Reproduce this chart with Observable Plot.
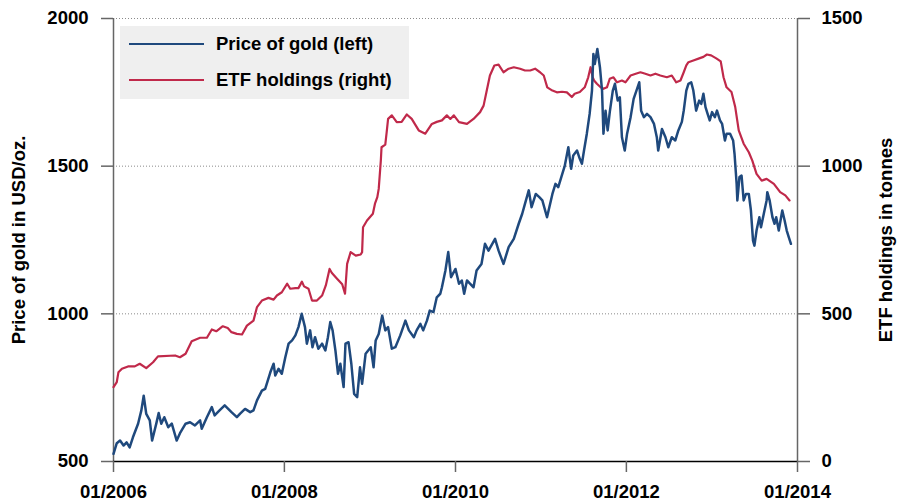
<!DOCTYPE html>
<html>
<head>
<meta charset="utf-8">
<script src="https://cdn.jsdelivr.net/npm/d3@7"></script>
<script src="https://cdn.jsdelivr.net/npm/@observablehq/plot@0.6"></script>
<style>
  body { margin: 0; background: #fff; }
  #wrap { position: relative; width: 897px; height: 503px; font-family: "Liberation Sans", Arial, sans-serif; font-weight: bold; color: #000; }
  #legend { position: absolute; left: 120px; top: 26px; width: 289px; height: 73px; background: #efefef; }
  .row { position: absolute; left: 9px; height: 24px; display: flex; align-items: center; font-size: 18.5px; white-space: nowrap; }
  .sw { width: 75px; height: 2.5px; margin-right: 12px; }
</style>
</head>
<body>
<div id="wrap"><div id="legend"></div></div>
<script>
// ---- Data ----
const goldDates = [
"2006-01-01","2006-01-15","2006-01-29","2006-02-13","2006-02-26","2006-03-11","2006-03-25","2006-04-16","2006-04-30","2006-05-10",
"2006-05-21","2006-06-05","2006-06-15","2006-07-03","2006-07-13","2006-07-24","2006-08-06","2006-08-23","2006-09-07","2006-09-28",
"2006-10-12","2006-11-05","2006-11-24","2006-12-15","2007-01-06","2007-01-13","2007-02-04","2007-02-25","2007-03-09","2007-03-30",
"2007-04-21","2007-05-20","2007-06-12","2007-06-26","2007-07-17","2007-08-08","2007-08-22","2007-09-06","2007-09-27","2007-10-11",
"2007-11-02","2007-11-16","2007-11-23","2007-12-07","2007-12-21","2008-01-05","2008-01-19","2008-02-03","2008-02-17","2008-03-01",
"2008-03-15","2008-03-29","2008-04-06","2008-04-20","2008-04-30","2008-05-11","2008-05-25","2008-06-10","2008-06-24","2008-07-05",
"2008-07-15","2008-07-25","2008-08-06","2008-08-17","2008-08-27","2008-09-10","2008-09-18","2008-10-01","2008-10-13","2008-10-25",
"2008-11-07","2008-11-19","2008-11-28","2008-12-13","2009-01-04","2009-01-16","2009-01-25","2009-02-07","2009-02-22","2009-03-07",
"2009-03-19","2009-04-04","2009-04-19","2009-05-10","2009-06-01","2009-06-16","2009-07-07","2009-07-19","2009-08-04","2009-08-16",
"2009-09-01","2009-09-13","2009-09-29","2009-10-13","2009-10-28","2009-11-04","2009-11-19","2009-12-01","2009-12-13","2010-01-01",
"2010-01-16","2010-01-28","2010-02-07","2010-02-19","2010-03-04","2010-03-19","2010-04-01","2010-04-22","2010-05-07","2010-05-22",
"2010-06-19","2010-07-04","2010-07-25","2010-08-16","2010-09-07","2010-09-28","2010-10-13","2010-10-25","2010-11-10","2010-11-22",
"2010-12-10","2010-12-25","2011-01-07","2011-01-27","2011-02-19","2011-03-04","2011-03-16","2011-03-29","2011-04-13","2011-04-28",
"2011-05-10","2011-05-19","2011-06-04","2011-06-16","2011-06-25","2011-07-04","2011-07-16","2011-07-28","2011-08-07","2011-08-13",
"2011-08-19","2011-08-30","2011-09-10","2011-09-19","2011-09-25","2011-10-04","2011-10-13","2011-10-22","2011-11-04","2011-11-13",
"2011-11-25","2011-12-04","2011-12-13","2011-12-25","2012-01-04","2012-01-19","2012-02-01","2012-02-13","2012-02-25","2012-03-04",
"2012-03-16","2012-03-29","2012-04-13","2012-04-28","2012-05-10","2012-05-16","2012-06-01","2012-06-16","2012-06-28","2012-07-13",
"2012-07-28","2012-08-10","2012-08-25","2012-09-02","2012-09-13","2012-09-22","2012-10-04","2012-10-13","2012-10-25","2012-11-07",
"2012-11-16","2012-11-25","2012-12-04","2012-12-13","2012-12-22","2013-01-01","2013-01-13","2013-01-22","2013-02-04","2013-02-13",
"2013-02-25","2013-03-04","2013-03-19","2013-04-01","2013-04-07","2013-04-16","2013-04-19","2013-04-28","2013-05-07","2013-05-16",
"2013-05-26","2013-06-07","2013-06-16","2013-06-25","2013-07-01","2013-07-10","2013-07-22","2013-07-29","2013-08-10","2013-08-22",
"2013-08-25","2013-09-04","2013-09-16","2013-09-25","2013-10-02","2013-10-13","2013-10-28","2013-11-07","2013-11-16","2013-11-25",
"2013-12-04"
];
const goldPrice = [
526,562,571,554,565,548,582,628,673,723,
661,639,571,629,664,628,650,616,628,571,
596,628,633,622,639,611,650,684,656,673,
690,667,650,662,678,667,673,707,740,746,
802,831,791,814,797,853,899,910,927,955,
1000,955,899,944,887,921,882,899,876,921,
972,944,876,797,831,752,899,904,831,729,
718,819,763,865,887,819,910,932,994,944,
955,882,887,927,977,944,921,944,966,944,
977,1011,1006,1056,1068,1090,1147,1209,1124,1152,
1102,1113,1068,1113,1102,1090,1147,1169,1237,1214,
1254,1214,1169,1226,1254,1305,1339,1373,1418,1361,
1406,1395,1384,1327,1406,1440,1429,1463,1502,1564,
1491,1536,1553,1525,1508,1553,1610,1677,1756,1880,
1846,1897,1835,1756,1610,1688,1621,1683,1756,1779,
1722,1733,1598,1553,1610,1666,1728,1756,1784,1688,
1666,1677,1666,1643,1598,1553,1626,1598,1564,1598,
1587,1621,1650,1688,1756,1779,1784,1756,1688,1722,
1711,1745,1700,1677,1655,1683,1666,1688,1655,1643,
1587,1610,1610,1587,1542,1440,1384,1463,1468,1384,
1406,1406,1350,1248,1231,1282,1327,1293,1339,1384,
1412,1384,1327,1305,1327,1282,1350,1316,1282,1259,
1237
];
const etfDates = [
"2006-01-01","2006-01-15","2006-01-22","2006-02-06","2006-03-04","2006-04-02","2006-04-23","2006-05-21","2006-06-19","2006-07-10",
"2006-09-21","2006-10-12","2006-11-05","2006-12-01","2007-01-06","2007-02-04","2007-02-25","2007-03-16","2007-04-13","2007-05-04",
"2007-05-20","2007-06-12","2007-07-04","2007-07-25","2007-08-22","2007-09-06","2007-09-27","2007-10-25","2007-11-16","2007-11-30",
"2007-12-21","2008-01-13","2008-01-26","2008-02-17","2008-03-01","2008-03-16","2008-03-25","2008-04-13","2008-04-28","2008-05-19",
"2008-06-10","2008-06-26","2008-07-12","2008-07-22","2008-08-13","2008-08-27","2008-09-04","2008-09-16","2008-09-25","2008-10-10",
"2008-11-01","2008-11-22","2008-11-28","2008-12-02","2008-12-19","2009-01-13","2009-01-22","2009-02-01","2009-02-07","2009-02-16",
"2009-02-19","2009-03-07","2009-03-13","2009-03-19","2009-04-04","2009-04-25","2009-05-16","2009-06-07","2009-06-28","2009-07-28",
"2009-08-25","2009-09-22","2009-10-13","2009-11-04","2009-11-25","2009-12-10","2009-12-25","2010-01-16","2010-02-19","2010-03-19",
"2010-04-16","2010-05-01","2010-05-13","2010-05-28","2010-06-16","2010-07-04","2010-07-25","2010-08-16","2010-09-07","2010-10-04",
"2010-10-25","2010-11-16","2010-12-07","2010-12-28","2011-01-13","2011-01-28","2011-02-19","2011-03-10","2011-04-01","2011-04-22",
"2011-05-13","2011-05-25","2011-06-16","2011-07-07","2011-07-22","2011-08-01","2011-08-10","2011-08-16","2011-08-28","2011-09-13",
"2011-09-25","2011-10-10","2011-10-22","2011-11-07","2011-11-22","2011-12-13","2011-12-28","2012-01-19","2012-02-10","2012-03-01",
"2012-03-22","2012-04-13","2012-05-04","2012-05-25","2012-06-22","2012-07-13","2012-08-01","2012-08-19","2012-09-02","2012-09-13",
"2012-09-22","2012-10-13","2012-11-07","2012-11-25","2012-12-10","2012-12-28","2013-01-19","2013-02-07","2013-02-19","2013-03-04",
"2013-03-25","2013-04-10","2013-04-25","2013-05-16","2013-06-07","2013-06-22","2013-07-10","2013-08-01","2013-08-22","2013-09-22",
"2013-10-19","2013-11-10","2013-11-28"
];
const etfTonnes = [
252,269,302,314,322,322,331,316,336,356,
359,353,365,407,419,419,447,441,458,452,
438,432,430,460,477,523,545,554,548,562,
573,602,585,587,587,609,593,585,545,545,
562,596,652,638,619,607,600,568,669,709,
697,701,709,793,816,839,873,895,923,1019,
1064,1073,1115,1160,1172,1149,1150,1175,1160,1121,
1110,1143,1150,1155,1172,1160,1172,1149,1143,1160,
1183,1205,1250,1307,1341,1344,1318,1330,1335,1330,
1324,1324,1330,1318,1307,1267,1256,1250,1252,1250,
1234,1245,1251,1267,1301,1335,1301,1290,1279,1267,
1262,1267,1296,1301,1284,1290,1284,1307,1313,1318,
1313,1307,1313,1307,1301,1307,1284,1290,1318,1341,
1352,1358,1365,1370,1378,1375,1365,1355,1301,1267,
1251,1200,1121,1076,1047,1019,974,951,957,940,
912,901,884
];
const seriesNames = ["Price of gold (left)", "ETF holdings (right)"];
const seriesColors = ["#1f497d", "#c0294a"];
const xTickDates = ["2006-01-01", "2008-01-01", "2010-01-01", "2012-01-01", "2014-01-01"];
const goldTicks = [500, 1000, 1500, 2000];
const etfTicks = [0, 500, 1000, 1500];
const goldDomain = [500, 2000];
const etfDomain = [0, 1500];
const axisTitles = ["Price of gold in USD/oz.", "ETF holdings in tonnes"];

// ---- Build ----
const parse = d3.utcParse("%Y-%m-%d");
const xDomain = [parse(xTickDates[0]), parse(xTickDates[xTickDates.length - 1])];
// right-axis (ETF) values expressed on the left (gold) scale
const etfToLeft = d3.scaleLinear().domain(etfDomain).range(goldDomain);

const gold = goldDates.map((d, i) => ({date: parse(d), value: goldPrice[i]}));
const etf = etfDates.map((d, i) => ({date: parse(d), value: etfToLeft(etfTonnes[i])}));

const chart = Plot.plot({
  width: 897,
  height: 503,
  marginLeft: 113,
  marginRight: 100,
  marginTop: 18,
  marginBottom: 42,
  style: {fontFamily: "'Liberation Sans', Arial, sans-serif", fontSize: "18.5px", fontWeight: "bold", color: "#000", background: "#fff", overflow: "visible"},
  x: {type: "utc", domain: xDomain},
  y: {domain: goldDomain},
  marks: [
    Plot.ruleY(goldTicks.filter(v => v > goldDomain[0]), {stroke: "#8a8a8a", strokeWidth: 1, strokeDasharray: "1 2"}),
    Plot.ruleX(xDomain, {stroke: "#666", strokeWidth: 1.5}),
    Plot.ruleY([goldDomain[0]], {stroke: "#000", strokeWidth: 1.5}),
    Plot.axisY(goldTicks, {anchor: "left", tickSize: 12, tickPadding: 13, tickFormat: "d", label: null, stroke: "#666", fill: "#000", strokeWidth: 1.5}),
    Plot.axisY(etfTicks.map(etfToLeft), {anchor: "right", tickSize: 12, tickPadding: 12, tickFormat: v => String(Math.round(etfToLeft.invert(v))), label: null, stroke: "#666", fill: "#000", strokeWidth: 1.5}),
    Plot.axisX(xTickDates.map(parse), {tickSize: 11, tickPadding: 12, tickFormat: d3.utcFormat("%m/%Y"), label: null, stroke: "#666", fill: "#000", strokeWidth: 1.5}),
    Plot.line(etf, {x: "date", y: "value", stroke: seriesColors[1], strokeWidth: 2.2}),
    Plot.line(gold, {x: "date", y: "value", stroke: seriesColors[0], strokeWidth: 2.5}),
    Plot.text([axisTitles[0]], {frameAnchor: "left", textAnchor: "middle", rotate: -90, dx: -94, fill: "#000"}),
    Plot.text([axisTitles[1]], {frameAnchor: "right", textAnchor: "middle", rotate: -90, dx: 89, fill: "#000"})
  ]
});

const wrap = document.getElementById("wrap");
wrap.insertBefore(chart, wrap.firstChild);

const legend = document.getElementById("legend");
seriesNames.forEach((name, i) => {
  const row = document.createElement("div");
  row.className = "row";
  row.style.top = (6 + i * 36) + "px";
  const sw = document.createElement("div");
  sw.className = "sw";
  sw.style.background = seriesColors[i];
  const label = document.createElement("span");
  label.textContent = name;
  row.appendChild(sw);
  row.appendChild(label);
  legend.appendChild(row);
});
</script>
</body>
</html>
